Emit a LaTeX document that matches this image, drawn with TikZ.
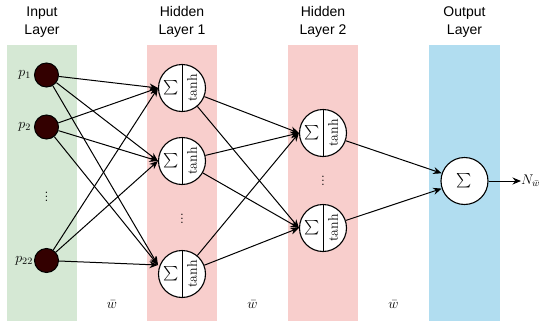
\RequirePackage{fix-cm}
\documentclass[tikz,border=0pt]{standalone}
\usepackage{exscale}
\usepackage{fontspec}
\newfontfamily\titlefont{Liberation Sans}
\usetikzlibrary{arrows.meta}
\definecolor{ingreen}{HTML}{D5E8D4}
\definecolor{hidpink}{HTML}{F8CECC}
\definecolor{outblue}{HTML}{B1DDF0}
\definecolor{inputdark}{HTML}{330000}
\newcommand\hidparts[1]{%
  \draw[line width=1pt] (#1.north) -- (#1.south);
  \node[sigma] (#1s) at ([xshift=-11pt]#1.center) {$\sum$};
  \node[mathtxt, rotate=90] (#1t) at ([xshift=10pt]#1.center) {$\tanh$};}
\begin{document}
\begin{tikzpicture}[x=1pt,y=-1pt,
  title/.style={font=\titlefont\fontsize{14}{17.5}\selectfont, align=center, inner sep=0},
  inp/.style={circle, draw=black, fill=inputdark, line width=1pt, minimum size=24pt, inner sep=0},
  hid/.style={circle, draw=black, fill=white, line width=1.1pt, minimum size=47pt, inner sep=0},
  conn/.style={-{Stealth[length=8.5pt,width=7pt]}, line width=1pt},
  mathtxt/.style={font=\fontsize{14}{17}\selectfont, inner sep=0},
  sigma/.style={font=\fontsize{15}{18}\selectfont, inner sep=0}]
\useasboundingbox (0,0) rectangle (550,327);
% bands
\fill[ingreen] (7,45) rectangle (77,321);
\fill[hidpink] (147,45) rectangle (217,321);
\fill[hidpink] (288,45) rectangle (358,321);
\fill[outblue] (429,45) rectangle (500,321);
% titles
\node[title] (t1) at (42,22) {Input\\Layer};
\node[title] (t2) at (182,22) {Hidden\\Layer 1};
\node[title] (t3) at (323,22) {Hidden\\Layer 2};
\node[title] (t4) at (464.5,22) {Output\\Layer};
% input layer
\node[inp] (i1) at (46.5,75) {};
\node[inp] (i2) at (46.5,127) {};
\node[mathtxt] (idots) at (46.5,194) {$\vdots$};
\node[inp] (i3) at (46.5,260.5) {};
\node[mathtxt, anchor=east] (li1) at ([xshift=-3pt]i1.west) {$p_1$};
\node[mathtxt, anchor=east] (li2) at ([xshift=-3pt]i2.west) {$p_2$};
\node[mathtxt, anchor=east] (li3) at ([xshift=-1pt]i3.west) {$p_{22}$};
% hidden layer 1
\node[hid] (h11) at (182,88) {};
\node[hid] (h12) at (182,161) {};
\node[mathtxt] (h1dots) at (182,216) {$\vdots$};
\node[hid] (h13) at (182,274) {};
\hidparts{h11}\hidparts{h12}\hidparts{h13}
\coordinate (h13in) at ([yshift=9pt]h13.west);
% hidden layer 2
\node[hid] (h21) at (323,133) {};
\node[mathtxt] (h2dots) at (323,178) {$\vdots$};
\node[hid] (h22) at (323,228) {};
\hidparts{h21}\hidparts{h22}
% output
\node[hid] (o) at (464.5,181) {};
\node[sigma] (os) at (o.center) {$\sum$};
\node[mathtxt, anchor=west] (nout) at (521,181) {$N_{\bar w}$};
% weight labels
\node[mathtxt] (w1) at (112,305) {$\bar{w}$};
\node[mathtxt] (w2) at (252.5,305) {$\bar{w}$};
\node[mathtxt] (w3) at (393.5,305) {$\bar{w}$};
% connections input -> hidden 1
\foreach \s in {i1,i2,i3}{
  \draw[conn] (\s) -- (h11.west);
  \draw[conn] (\s) -- (h12.west);
  \draw[conn] (\s) -- (h13in);
}
% hidden 1 -> hidden 2
\foreach \s in {h11,h12,h13}{
  \draw[conn] (\s) -- (h21.west);
  \draw[conn] (\s) -- (h22.west);
}
% hidden 2 -> output
\draw[conn] (h21) -- (o);
\draw[conn] (h22) -- (o);
\draw[conn] (o) -- (nout.west);
\end{tikzpicture}
\end{document}
